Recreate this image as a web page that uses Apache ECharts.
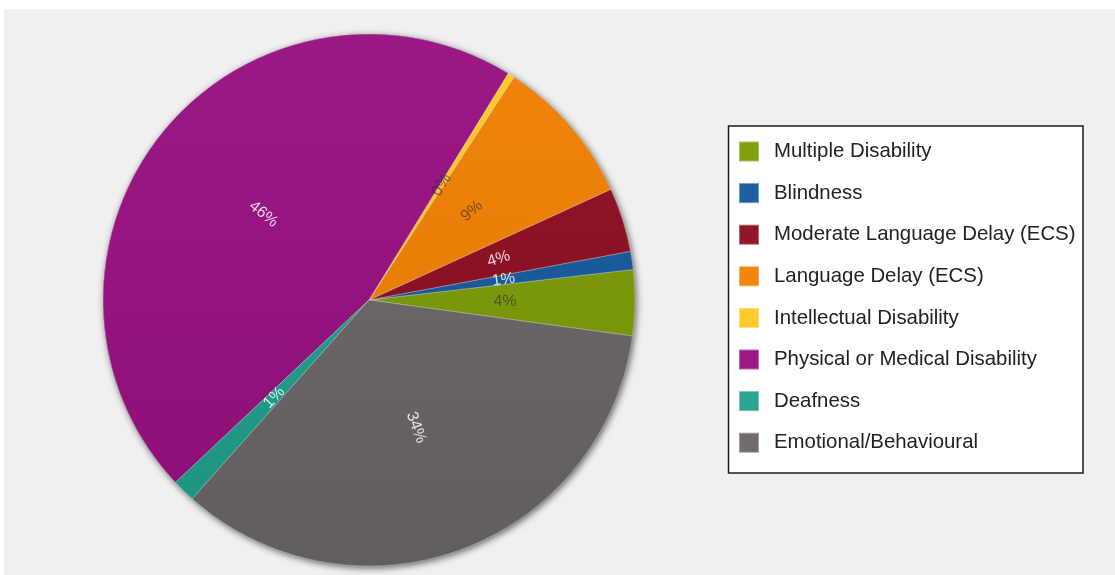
<!DOCTYPE html>
<html>
<head>
<meta charset="utf-8">
<title>Disability categories</title>
<script src="https://cdn.jsdelivr.net/npm/echarts@6/dist/echarts.min.js"></script>
<style>
  html, body { margin: 0; padding: 0; background: #ffffff; }
  #chart { width: 1115px; height: 575px; }
</style>
</head>
<body>
<div id="chart"></div>
<script>
// Categories, listed in legend order (slices run counter-clockwise in this order)
const categories = [
  'Multiple Disability',
  'Blindness',
  'Moderate Language Delay (ECS)',
  'Language Delay (ECS)',
  'Intellectual Disability',
  'Physical or Medical Disability',
  'Deafness',
  'Emotional/Behavioural'
];
// Share of students in each category, percent
const shares = [4.0, 1.1, 3.9, 9.0, 0.4, 45.8, 1.4, 34.4];
// Slice colours
const sliceColors = ['#7c9b05', '#15599b', '#8c0d1f', '#f18002', '#ffc824', '#980f80', '#20a08c', '#6b6566'];
// Label tone per slice: light text on dark slices, dark text on bright ones
const labelTones = ['dark', 'light', 'light', 'dark', 'dark', 'light', 'light', 'light'];

const CX = 369, CY = 300, R = 266;

function shade(hex, f) {
  const n = parseInt(hex.slice(1), 16);
  let r = (n >> 16) & 255, g = (n >> 8) & 255, b = n & 255;
  const adj = c => Math.max(0, Math.min(255, Math.round(f >= 0 ? c + (255 - c) * f : c * (1 + f))));
  return 'rgb(' + adj(r) + ',' + adj(g) + ',' + adj(b) + ')';
}

function sliceFill(hex) {
  return new echarts.graphic.LinearGradient(0, CY - R, 0, CY + R, [
    { offset: 0, color: shade(hex, 0.04) },
    { offset: 1, color: shade(hex, -0.08) }
  ], true);
}

const pieData = categories.map((name, i) => ({
  name: name,
  value: shares[i],
  itemStyle: { color: sliceFill(sliceColors[i]) },
  label: {
    color: labelTones[i] === 'light' ? 'rgba(255,255,255,0.82)' : 'rgba(45,45,45,0.62)'
  }
}));

const chart = echarts.init(document.getElementById('chart'), null, { renderer: 'canvas' });

chart.setOption({
  animation: false,
  backgroundColor: '#ffffff',
  graphic: [
    {
      type: 'rect',
      z: -10,
      silent: true,
      shape: { x: 4, y: 9, width: 1111, height: 566 },
      style: { fill: '#f0f0f0' }
    },
    {
      type: 'rect',
      z: -5,
      silent: true,
      shape: { x: 728.5, y: 126, width: 354.5, height: 347 },
      style: { fill: '#ffffff', stroke: '#1c1c1c', lineWidth: 1.5 }
    }
  ],
  legend: {
    data: categories,
    orient: 'vertical',
    left: 738,
    top: 140.5,
    padding: 0,
    icon: 'rect',
    itemWidth: 20,
    itemHeight: 20,
    itemGap: 19.6,
    selectedMode: false,
    textStyle: {
      fontFamily: '"Liberation Sans", Arial, sans-serif',
      fontSize: 20.4,
      lineHeight: 20,
      color: '#222222',
      padding: [0, 0, 0, 10]
    }
  },
  series: [
    {
      // soft drop shadow under the pie
      type: 'pie',
      name: 'base',
      silent: true,
      z: 1,
      center: [CX, CY],
      radius: R,
      label: { show: false },
      labelLine: { show: false },
      itemStyle: {
        color: '#6a6a6a',
        shadowBlur: 7,
        shadowColor: 'rgba(0,0,0,0.6)',
        shadowOffsetX: 1.5,
        shadowOffsetY: 2
      },
      data: [{ name: '', value: 1 }]
    },
    {
      type: 'pie',
      name: 'Disability',
      z: 2,
      center: [CX, CY],
      radius: R,
      startAngle: 352.2,
      clockwise: false,
      avoidLabelOverlap: false,
      silent: true,
      itemStyle: {
        borderColor: 'rgba(255,255,255,0.35)',
        borderWidth: 0.8
      },
      label: {
        show: true,
        position: 'inside',
        rotate: 'radial',
        fontFamily: '"Liberation Sans", Arial, sans-serif',
        fontSize: 16,
        formatter: p => Math.round(p.value) + '%'
      },
      labelLine: { show: false },
      data: pieData
    }
  ]
});
</script>
</body>
</html>
